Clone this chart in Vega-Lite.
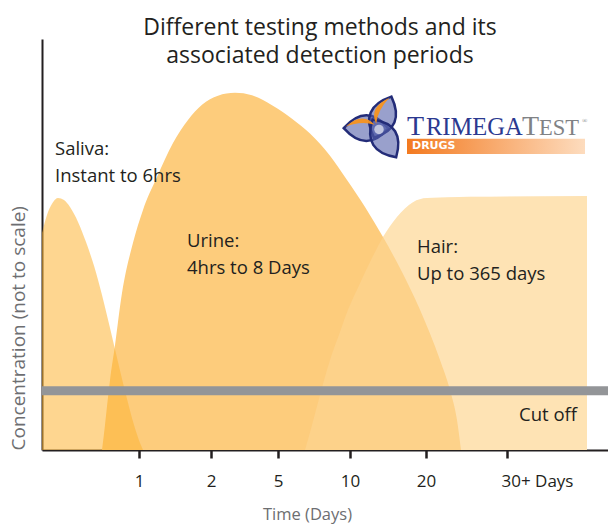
{
  "$schema": "https://vega.github.io/schema/vega-lite/v6.json",
  "width": 566,
  "height": 411,
  "autosize": {"type": "none"},
  "padding": {"left": 42, "top": 39, "right": 0, "bottom": 75},
  "background": "white",
  "config": {
    "view": {"stroke": null},
    "font": "Open Sans"
  },
  "title": {
    "text": ["Different testing methods and its", "associated detection periods"],
    "fontSize": 23,
    "font": "Open Sans",
    "fontWeight": "normal",
    "color": "#231f20",
    "lineHeight": 28,
    "anchor": "middle",
    "offset": -29,
    "dx": -5
  },
  "datasets": {
    "saliva": [
      {"time": 0, "conc": 52.8}, {"time": 6, "conc": 57.9}, {"time": 11, "conc": 60.3},
      {"time": 16, "conc": 61.3}, {"time": 22, "conc": 60.8}, {"time": 28, "conc": 59.1},
      {"time": 36, "conc": 55.5}, {"time": 44, "conc": 50.6}, {"time": 52, "conc": 44.8},
      {"time": 60, "conc": 37.7}, {"time": 68, "conc": 29.7}, {"time": 76, "conc": 21.4},
      {"time": 84, "conc": 13.4}, {"time": 92, "conc": 6.1}, {"time": 98, "conc": 1.7},
      {"time": 101, "conc": 0}
    ],
    "urine": [
      {"time": 60, "conc": 0}, {"time": 63, "conc": 6.1}, {"time": 68, "conc": 17.0},
      {"time": 73, "conc": 25.5}, {"time": 80, "conc": 38.2}, {"time": 91, "conc": 50.4},
      {"time": 101, "conc": 58.4}, {"time": 115, "conc": 66.4}, {"time": 131, "conc": 74.7},
      {"time": 146, "conc": 80.3}, {"time": 160, "conc": 84.0}, {"time": 176, "conc": 86.2},
      {"time": 193, "conc": 86.9}, {"time": 210, "conc": 86.3}, {"time": 230, "conc": 83.9},
      {"time": 250, "conc": 80.6}, {"time": 268, "conc": 77.0}, {"time": 288, "conc": 71.6},
      {"time": 305, "conc": 65.7}, {"time": 323, "conc": 59.1}, {"time": 341, "conc": 51.8},
      {"time": 360, "conc": 43.3}, {"time": 378, "conc": 34.1}, {"time": 398, "conc": 21.9},
      {"time": 408, "conc": 14.6}, {"time": 415, "conc": 7.3}, {"time": 419, "conc": 0}
    ],
    "hair": [
      {"time": 263, "conc": 0}, {"time": 270, "conc": 6.1}, {"time": 278, "conc": 13.4},
      {"time": 288, "conc": 21.9}, {"time": 298, "conc": 28.7}, {"time": 306, "conc": 34.1},
      {"time": 318, "conc": 40.6}, {"time": 330, "conc": 46.7}, {"time": 341, "conc": 51.8},
      {"time": 355, "conc": 56.7}, {"time": 371, "conc": 60.3}, {"time": 385, "conc": 61.3},
      {"time": 428, "conc": 61.6}, {"time": 545, "conc": 61.8}
    ],
    "labels": [
      {"label": "Saliva:\nInstant to 6hrs", "time": 13, "conc": 71.8},
      {"label": "Urine:\n4hrs to 8 Days", "time": 145, "conc": 49.4},
      {"label": "Hair:\nUp to 365 days", "time": 375, "conc": 47.9}
    ],
    "logo": [{"brand": "TrimegaTest"}]
  },
  "layer": [
    {
      "data": {"name": "hair"},
      "mark": {"type": "area", "interpolate": "monotone", "color": "#FEE3B5", "opacity": 1},
      "encoding": {
        "x": {
          "field": "time", "type": "quantitative",
          "scale": {"domain": [0, 566], "nice": false, "zero": false},
          "axis": {
            "values": [97, 169, 236, 308, 384, 465],
            "labelExpr": "datum.value == 97 ? '1' : datum.value == 169 ? '2' : datum.value == 236 ? '5' : datum.value == 308 ? '10' : datum.value == 384 ? '20' : '30+ Days'",
            "labelAlign": {"condition": {"test": "datum.value == 465", "value": "left"}, "value": "center"},
            "labelOffset": {"condition": {"test": "datum.value == 465", "value": -6}, "value": 0},
            "grid": false,
            "domainColor": "#231f20",
            "domainWidth": 2,
            "tickColor": "#231f20",
            "tickWidth": 2.5,
            "tickSize": 8,
            "labelFontSize": 17,
            "labelColor": "#231f20",
            "labelPadding": 15,
            "title": "Time (Days)",
            "titleFontSize": 16.5,
            "titleFontWeight": "normal",
            "titleColor": "#6d6e71",
            "titlePadding": 17,
            "titleX": 265
          }
        },
        "y": {
          "field": "conc", "type": "quantitative",
          "scale": {"domain": [0, 100], "nice": false},
          "axis": {
            "ticks": false,
            "labels": false,
            "grid": false,
            "domainColor": "#231f20",
            "domainWidth": 2,
            "title": "Concentration (not to scale)",
            "titleFontSize": 19,
            "titleFontWeight": "normal",
            "titleColor": "#6d6e71",
            "titleAnchor": "start",
            "titlePadding": 14
          }
        }
      }
    },
    {
      "data": {"name": "urine"},
      "mark": {"type": "area", "interpolate": "monotone", "color": "#FDCC7C", "opacity": 1},
      "encoding": {
        "x": {"field": "time", "type": "quantitative"},
        "y": {"field": "conc", "type": "quantitative"}
      }
    },
    {
      "data": {"name": "hair"},
      "mark": {"type": "area", "interpolate": "monotone", "color": "#FEE3B5", "opacity": 0.25},
      "encoding": {
        "x": {"field": "time", "type": "quantitative"},
        "y": {"field": "conc", "type": "quantitative"}
      }
    },
    {
      "data": {"name": "saliva"},
      "mark": {"type": "area", "interpolate": "monotone", "color": "#FDB435", "opacity": 0.55},
      "encoding": {
        "x": {"field": "time", "type": "quantitative"},
        "y": {"field": "conc", "type": "quantitative"}
      }
    },
    {
      "data": {"values": [{"cutoff": 14.4}]},
      "mark": {"type": "rule", "color": "#939598", "strokeWidth": 9},
      "encoding": {
        "y": {"field": "cutoff", "type": "quantitative"}
      }
    },
    {
      "data": {"values": [{"label": "Cut off", "time": 535, "conc": 7.1}]},
      "mark": {"type": "text", "align": "right", "baseline": "alphabetic", "fontSize": 18.5, "color": "#231f20", "font": "Open Sans"},
      "encoding": {
        "x": {"field": "time", "type": "quantitative"},
        "y": {"field": "conc", "type": "quantitative"},
        "text": {"field": "label"}
      }
    },
    {
      "data": {"name": "labels"},
      "mark": {"type": "text", "align": "left", "baseline": "alphabetic", "fontSize": 18.5, "lineHeight": 27, "lineBreak": "\n", "color": "#231f20", "font": "Open Sans"},
      "encoding": {
        "x": {"field": "time", "type": "quantitative"},
        "y": {"field": "conc", "type": "quantitative"},
        "text": {"field": "label"}
      }
    },
    {
      "data": {"name": "logo"},
      "mark": {"type": "point", "shape": "M-0.3,0 Q0.33,-0.75 1,0 Q0.33,0.75 -0.3,0 Z", "angle": 180, "size": 4700, "filled": true, "fill": "#5560AA", "fillOpacity": 0.6, "stroke": "#232C78", "strokeWidth": 2.5, "opacity": 1},
      "encoding": {"x": {"datum": 336}, "y": {"datum": 78.3}}
    },
    {
      "data": {"name": "logo"},
      "mark": {"type": "point", "shape": "M-0.3,0 Q0.33,-0.75 1,0 Q0.33,0.75 -0.3,0 Z", "angle": -67, "size": 4700, "filled": true, "fill": "#5560AA", "fillOpacity": 0.6, "stroke": "#232C78", "strokeWidth": 2.5, "opacity": 1},
      "encoding": {"x": {"datum": 336}, "y": {"datum": 78.3}}
    },
    {
      "data": {"name": "logo"},
      "mark": {"type": "point", "shape": "M-0.3,0 Q0.33,-0.75 1,0 Q0.33,0.75 -0.3,0 Z", "angle": 58, "size": 4700, "filled": true, "fill": "#5560AA", "fillOpacity": 0.6, "stroke": "#232C78", "strokeWidth": 2.5, "opacity": 1},
      "encoding": {"x": {"datum": 336}, "y": {"datum": 78.3}}
    },
    {
      "data": {"name": "logo"},
      "mark": {"type": "point", "shape": "M0.1,0.1 Q0.45,0.5 0.95,0.04 Q0.5,0.22 0.1,0.1 Z", "angle": 180, "size": 4700, "filled": true, "fill": "#F7941D", "opacity": 0.95},
      "encoding": {"x": {"datum": 336}, "y": {"datum": 78.3}}
    },
    {
      "data": {"name": "logo"},
      "mark": {"type": "point", "shape": "M0.1,-0.1 Q0.45,-0.5 0.95,-0.04 Q0.5,-0.22 0.1,-0.1 Z", "angle": -67, "size": 4700, "filled": true, "fill": "#F7941D", "opacity": 0.95},
      "encoding": {"x": {"datum": 336}, "y": {"datum": 78.3}}
    },
    {
      "data": {"name": "logo"},
      "mark": {"type": "point", "shape": "circle", "size": 90, "filled": true, "fill": "white", "opacity": 0.6},
      "encoding": {"x": {"datum": 337}, "y": {"datum": 78}}
    },
    {
      "data": {"name": "logo"},
      "mark": {"type": "rect", "color": {"gradient": "linear", "stops": [{"offset": 0, "color": "#F37A20"}, {"offset": 1, "color": "#FDDCBE"}]}},
      "encoding": {"x": {"datum": 365}, "x2": {"datum": 543}, "y": {"datum": 75.7}, "y2": {"datum": 72.0}}
    },
    {
      "data": {"name": "logo"},
      "mark": {"type": "text", "text": "DRUGS", "align": "left", "baseline": "middle", "fontSize": 11, "fontWeight": "bold", "color": "white", "font": "DejaVu Sans"},
      "encoding": {"x": {"datum": 370}, "y": {"datum": 73.85}}
    },
    {
      "data": {"name": "logo"},
      "mark": {"type": "text", "text": "T", "align": "left", "baseline": "alphabetic", "fontSize": 28, "color": "#2B3990", "font": "Liberation Serif"},
      "encoding": {"x": {"datum": 365}, "y": {"datum": 76.6}}
    },
    {
      "data": {"name": "logo"},
      "mark": {"type": "text", "text": "RIMEGA", "align": "left", "baseline": "alphabetic", "fontSize": 24.5, "color": "#2B3990", "font": "Liberation Serif"},
      "encoding": {"x": {"datum": 384}, "y": {"datum": 76.6}}
    },
    {
      "data": {"name": "logo"},
      "mark": {"type": "text", "text": "T", "align": "left", "baseline": "alphabetic", "fontSize": 28, "color": "#808285", "font": "Liberation Serif"},
      "encoding": {"x": {"datum": 480}, "y": {"datum": 76.6}}
    },
    {
      "data": {"name": "logo"},
      "mark": {"type": "text", "text": "EST", "align": "left", "baseline": "alphabetic", "fontSize": 22.5, "color": "#808285", "font": "Liberation Serif"},
      "encoding": {"x": {"datum": 497}, "y": {"datum": 76.6}}
    },
    {
      "data": {"name": "logo"},
      "mark": {"type": "text", "text": "®", "align": "left", "baseline": "alphabetic", "fontSize": 7, "color": "#808285", "font": "Liberation Serif"},
      "encoding": {"x": {"datum": 540}, "y": {"datum": 79.5}}
    }
  ]
}
